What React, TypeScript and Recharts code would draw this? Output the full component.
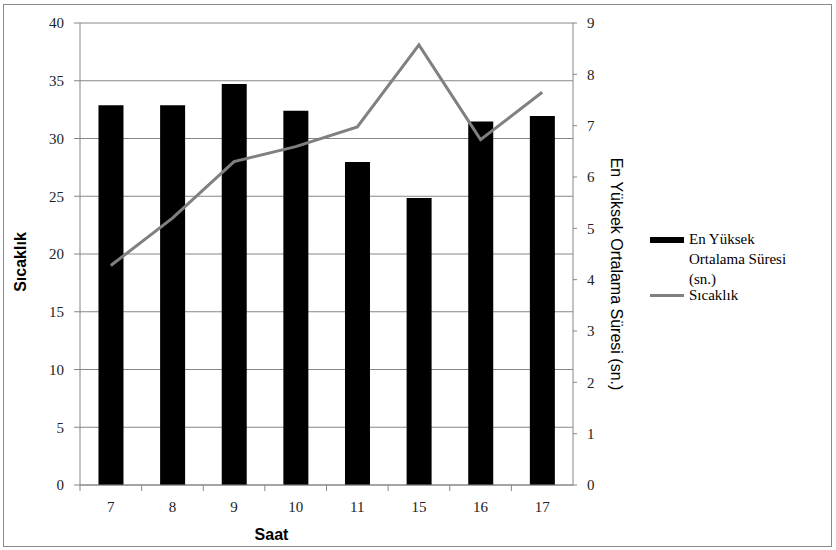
import { ComposedChart, Bar, Line, XAxis, YAxis, CartesianGrid, Legend, Label } from 'recharts';

// saat (x kategorileri)
const hours = ['7', '8', '9', '10', '11', '15', '16', '17'];
// en yüksek ortalama süresi (sn.) - sağ eksen
const peakDuration = [7.4, 7.4, 7.81, 7.29, 6.29, 5.59, 7.08, 7.19];
// sıcaklık - sol eksen
const temperature = [19, 23.1, 28, 29.3, 31, 38.1, 29.9, 34];

const leftTicks = [0, 5, 10, 15, 20, 25, 30, 35, 40];
const rightTicks = [0, 1, 2, 3, 4, 5, 6, 7, 8, 9];

const data = hours.map((saat, i) => ({
  saat,
  sure: peakDuration[i],
  sicaklik: temperature[i],
}));

const AXIS = '#868686';
const SERIF = 'Liberation Serif, Times New Roman, serif';
const SANS = 'Liberation Sans, Arial, sans-serif';

function HourTick(props: any) {
  const { x, y, payload } = props;
  const half = payload.offset ?? 0;
  return (
    <g>
      <line x1={x - half} x2={x - half} y1={y - 16} y2={y - 10} stroke={AXIS} />
      <text x={x} y={y} dy="0.71em" textAnchor="middle" fill="#222" fontSize={15} style={{ fontFamily: SERIF }}>
        {payload.value}
      </text>
    </g>
  );
}

function LeftTitle(props: any) {
  const { viewBox } = props;
  const cx = viewBox.x + 20;
  const cy = viewBox.y + viewBox.height / 2 + 8;
  return (
    <text x={cx} y={cy} transform={`rotate(-90 ${cx} ${cy})`} textAnchor="middle" dominantBaseline="central"
      style={{ fontFamily: SANS }} fontWeight="bold" fontSize={16} fill="#000">
      Sıcaklık
    </text>
  );
}

function RightTitle(props: any) {
  const { viewBox } = props;
  const cx = viewBox.x + 43;
  const cy = viewBox.y + viewBox.height / 2 + 20;
  return (
    <text x={cx} y={cy} transform={`rotate(90 ${cx} ${cy})`} textAnchor="middle" dominantBaseline="central"
      style={{ fontFamily: SANS }} fontSize={16} fill="#000">
      En Yüksek Ortalama Süresi (sn.)
    </text>
  );
}

function ChartLegend(props: any) {
  const items = props.payload || [];
  return (
    <div style={{ fontFamily: SERIF, fontSize: 15, color: '#000', lineHeight: '20px' }}>
      {items.map((item: any, i: number) => (
        <div key={item.value} style={{ display: 'flex', alignItems: 'flex-start', marginTop: i === 0 ? 0 : -4 }}>
          {item.type === 'line' ? (
            <div style={{ width: 34, height: 3, background: item.color, marginTop: 9, marginRight: 5 }} />
          ) : (
            <div style={{ width: 34, height: 6, background: item.color, marginTop: 8, marginRight: 5 }} />
          )}
          <div style={{ width: 112 }}>{item.value}</div>
        </div>
      ))}
    </div>
  );
}

export default function App() {
  return (
    <div style={{ position: 'relative', width: 836, height: 550, background: '#fff' }}>
      <style>{`body{margin:0}`}</style>
      <div style={{ position: 'absolute', left: 3, top: 4, width: 827, height: 541, border: '1.5px solid #8a8a8a' }} />
      <ComposedChart
        width={836}
        height={550}
        data={data}
        margin={{ top: 23, right: 223, left: 0, bottom: 5 }}
        barCategoryGap="30%"
      >
        <CartesianGrid yAxisId="left" vertical={false} stroke={AXIS} strokeWidth={1} />
        <XAxis
          dataKey="saat"
          height={60}
          stroke={AXIS}
          tickLine={false}
          tickSize={6}
          tickMargin={10}
          tick={<HourTick />}
          interval={0}
        >
          <Label value="Saat" position="insideBottom" offset={5} dx={-55}
            style={{ fontFamily: SANS, fontWeight: 'bold', fontSize: 16, fill: '#000' }} />
        </XAxis>
        <YAxis
          yAxisId="left"
          width={80}
          domain={[0, 40]}
          ticks={leftTicks}
          stroke={AXIS}
          tickSize={6}
          tickMargin={10}
          tick={{ fill: '#222', fontSize: 15, style: { fontFamily: SERIF } }}
        >
          <Label content={<LeftTitle />} />
        </YAxis>
        <YAxis
          yAxisId="right"
          orientation="right"
          width={40}
          domain={[0, 9]}
          ticks={rightTicks}
          stroke={AXIS}
          tickSize={4}
          tickMargin={10}
          tick={{ fill: '#222', fontSize: 15, style: { fontFamily: SERIF } }}
        >
          <Label content={<RightTitle />} />
        </YAxis>
        <Legend
          layout="horizontal"
          align="center"
          verticalAlign="middle"
          content={<ChartLegend />}
          wrapperStyle={{ left: 650, top: 229, width: 170 }}
        />
        <Bar
          yAxisId="right"
          dataKey="sure"
          name="En Yüksek Ortalama Süresi (sn.)"
          fill="#000"
          isAnimationActive={false}
        />
        <Line
          yAxisId="left"
          dataKey="sicaklik"
          name="Sıcaklık"
          type="linear"
          stroke="#808080"
          strokeWidth={3}
          dot={false}
          activeDot={false}
          isAnimationActive={false}
        />
      </ComposedChart>
    </div>
  );
}
